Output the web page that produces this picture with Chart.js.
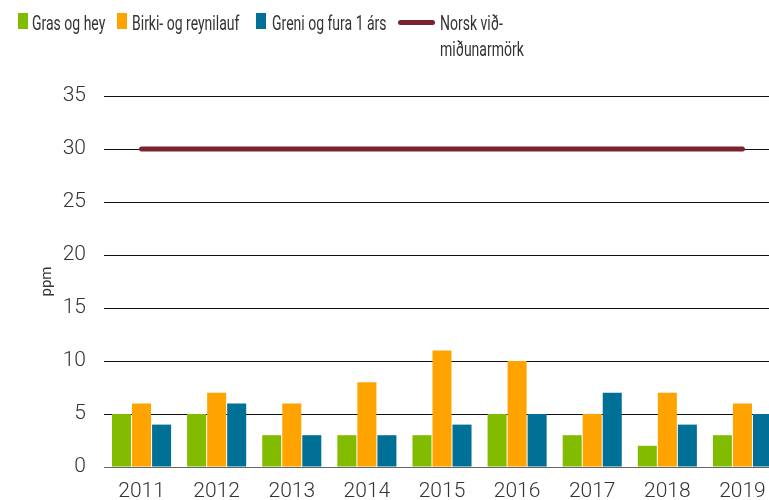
<!DOCTYPE html>
<html>
<head>
<meta charset="utf-8">
<script src="https://cdn.jsdelivr.net/npm/chart.js@4"></script>
<style>
  html, body { margin: 0; padding: 0; background: #fff; overflow: hidden; }
  #wrap { position: relative; width: 780px; height: 500px; }
  #chart { position: absolute; left: 0; top: 0; }
  .lg { position: absolute; font-family: 'Roboto', sans-serif; font-size: 20px; color: #333; line-height: 26px; white-space: nowrap;
        transform: scaleX(0.7); transform-origin: 0 0; }
  .sw { position: absolute; width: 10px; height: 16px; }
  .ln { position: absolute; width: 37px; height: 5px; border-radius: 3px; background: #7b2230; }
</style>
</head>
<body>
<div id="wrap">
  <canvas id="chart" width="780" height="500"></canvas>
  <div class="sw" style="left:18px;top:13px;background:#82bc00"></div>
  <div class="lg" style="left:32px;top:10px">Gras og hey</div>
  <div class="sw" style="left:117px;top:13px;background:#ffa300"></div>
  <div class="lg" style="left:132px;top:10px">Birki- og reynilauf</div>
  <div class="sw" style="left:256px;top:13px;background:#007096"></div>
  <div class="lg" style="left:272px;top:10px">Greni og fura 1 árs</div>
  <div class="ln" style="left:398px;top:20px"></div>
  <div class="lg" style="left:440px;top:10px">Norsk við-<br>miðunarmörk</div>
</div>
<script>
// ── Data ───────────────────────────────────────────────────────
const years = ['2011', '2012', '2013', '2014', '2015', '2016', '2017', '2018', '2019'];
const grasHey = [5, 5, 3, 3, 3, 5, 3, 2, 3];
const birkiReynilauf = [6, 7, 6, 8, 11, 10, 5, 7, 6];
const greniFura = [4, 6, 3, 3, 4, 5, 7, 4, 5];
const vidmidun = [30, 30, 30, 30, 30, 30, 30, 30, 30];

const FONT = "'Roboto', sans-serif";

const barSet = (label, data, color) => ({
  type: 'bar', label, data, backgroundColor: color, borderWidth: 0,
  categoryPercentage: 0.8, barPercentage: 0.95, order: 2
});

new Chart(document.getElementById('chart'), {
  data: {
    labels: years,
    datasets: [
      { type: 'line', label: 'Norsk viðmiðunarmörk', data: vidmidun, borderColor: '#7b2230', borderWidth: 5,
        borderCapStyle: 'round', pointRadius: 0, fill: false, order: 1 },
      barSet('Gras og hey', grasHey, '#82bc00'),
      barSet('Birki- og reynilauf', birkiReynilauf, '#ffa300'),
      barSet('Greni og fura 1 árs', greniFura, '#007096')
    ]
  },
  options: {
    responsive: false, animation: false,
    layout: { padding: { top: 96, right: 0, bottom: 0, left: 0 } },
    plugins: { legend: { display: false }, tooltip: { enabled: false } },
    scales: {
      x: {
        afterFit: (s) => { s.height = 33; },
        grid: { display: false, drawTicks: false },
        border: { display: false },
        ticks: { color: '#333', padding: 12, font: { family: FONT, size: 21, weight: 300 } }
      },
      y: {
        min: 0, max: 35,
        afterFit: (s) => { s.width = 104; },
        grid: { drawTicks: false, color: (c) => c.tick.value === 0 ? '#666' : '#111', lineWidth: 1 },
        border: { display: false },
        ticks: { stepSize: 5, color: '#333', padding: 18, font: { family: FONT, size: 21, weight: 300 } },
        title: { display: true, text: 'ppm', color: '#333', padding: { top: 38, bottom: 0 }, font: { family: FONT, size: 15 } }
      }
    }
  }
});
</script>
</body>
</html>
